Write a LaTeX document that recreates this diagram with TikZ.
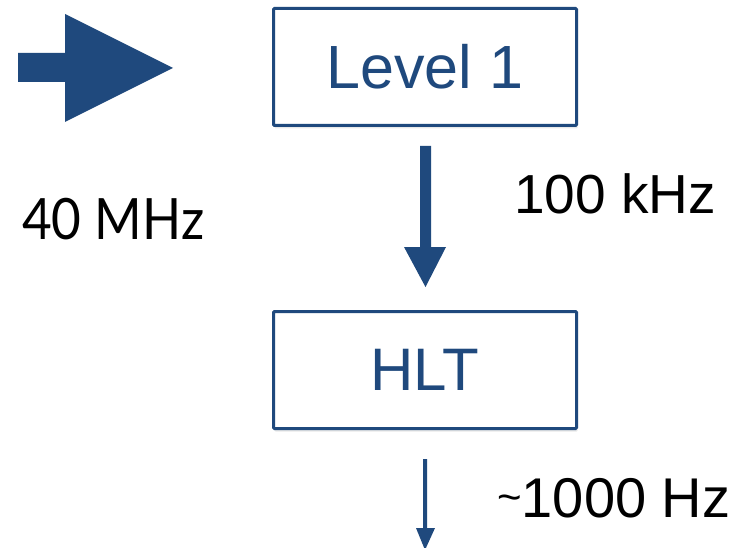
\documentclass[tikz,border=0pt]{standalone}
\usepackage{fontspec}
\setmainfont{Liberation Sans}
\newfontfamily\gillfont{Lato}
\usetikzlibrary{shadows,calc}
\definecolor{navy}{RGB}{31,73,125}
\tikzset{
  box/.style={draw=navy, line width=3pt, fill=white, rounded corners=1pt,
    minimum width=303pt, minimum height=117pt, inner sep=0pt,
    text=navy, drop shadow={opacity=0.18, shadow xshift=1pt, shadow yshift=-3pt}},
  flowarrow/.style={fill=navy, draw=none},
  rate/.style={anchor=base west, inner sep=0pt, text=black}
}
\begin{document}
\begin{tikzpicture}[x=1pt, y=-1pt]
\useasboundingbox (0,0) rectangle (746,548);
\fill[white] (0,0) rectangle (746,548);
% boxes
\node[box, font=\fontsize{61}{66}\selectfont] (l1) at (425,67) {Level 1};
\node[box, font=\fontsize{60}{66}\selectfont] (hlt) at (425,370) {HLT};
% input arrow
\fill[flowarrow] (18,53) -- (65,53) -- (65,14) -- (173,68) -- (65,122) -- (65,82) -- (18,82) -- cycle;
% arrow Level 1 -> HLT
\fill[flowarrow] (420,146) -- (431,146) -- (431,247) -- (446,247) -- (425.5,287) -- (404,247) -- (420,247) -- cycle;
% output arrow
\fill[flowarrow] (423,459) -- (427,459) -- (427,528) -- (435,528) -- (425,550) -- (416,528) -- (423,528) -- cycle;
% labels
\node[rate, xscale=0.9, font=\gillfont\fontsize{57}{62}\selectfont] (r40) at (22,239) {40 MHz};
\node[rate, font=\fontsize{55}{62}\selectfont] (r100) at (514,213) {100 kHz};
\node[rate, font=\fontsize{56}{62}\selectfont] (r1000) at (497,517) {{\fontsize{42}{48}\selectfont\raisebox{6pt}{\textasciitilde}}1000 Hz};
\end{tikzpicture}
\end{document}
